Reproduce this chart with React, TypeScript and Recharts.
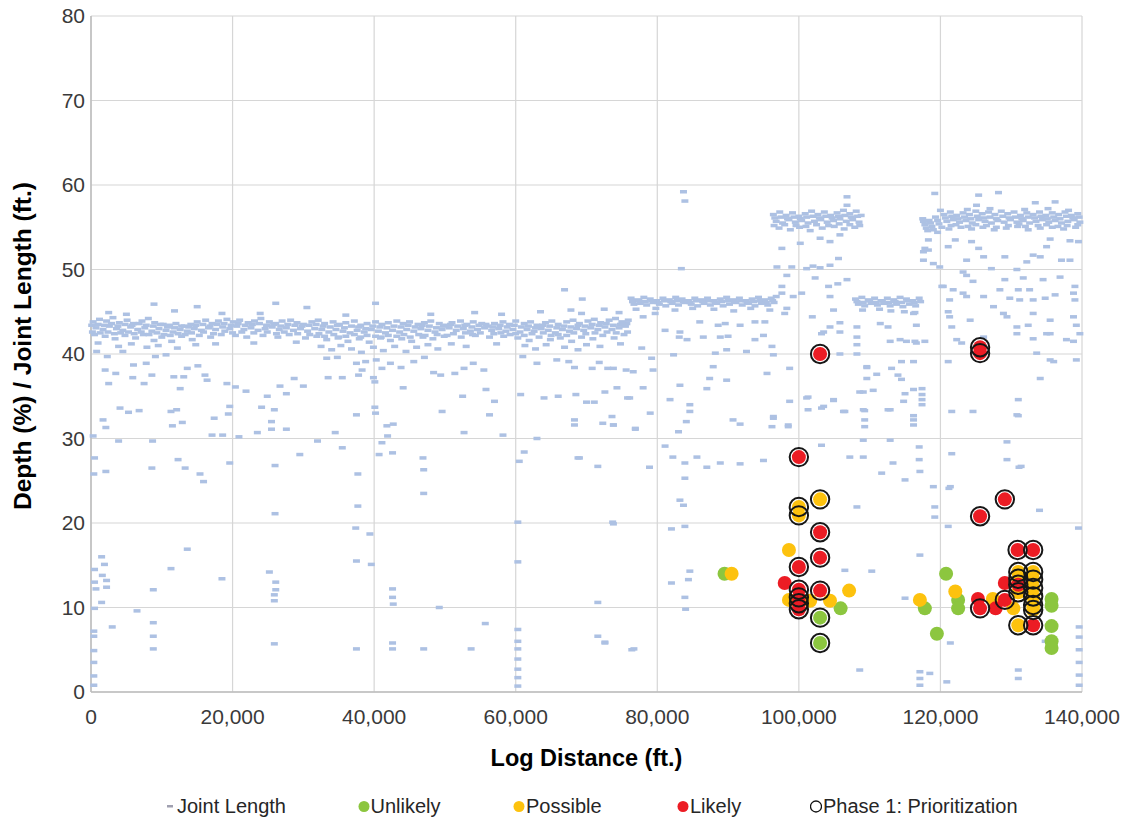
import React from 'react';
import { ScatterChart, Scatter, XAxis, YAxis, CartesianGrid, Legend, Label } from 'recharts';

type P = [number, number];

// ---- axis ticks ----
const xTicks = [0, 20000, 40000, 60000, 80000, 100000, 120000, 140000];
const yTicks = [0, 10, 20, 30, 40, 50, 60, 70, 80];

// ---- Joint Length (x in thousand ft, y in ft) ----
const jointBandATop: P[] = [
  [0.3,43.8],[1.2,44.1],[2.2,43.9],[3.1,44.3],[4.0,43.7],[5.1,44.0],[6.0,43.6],[7.2,43.9],[8.1,44.2],[9.0,43.7],
  [10.2,43.5],[11.1,43.4],[12.0,43.6],[13.2,43.3],[14.1,43.5],[15.0,43.8],[16.2,44.0],[17.1,43.6],[18.0,43.9],[19.2,44.1],
  [20.1,43.8],[21.0,44.0],[22.2,43.7],[23.1,43.9],[24.0,44.2],[25.2,43.8],[26.1,43.6],[27.0,43.9],[28.2,44.0],[29.1,43.7],
  [30.0,43.5],[31.2,43.8],[32.1,44.0],[33.0,43.6],[34.2,43.8],[35.1,43.5],[36.0,43.7],[37.2,43.9],[38.1,43.4],[39.0,43.6],
  [40.2,43.8],[41.1,43.5],[42.0,43.7],[43.2,43.9],[44.1,43.6],[45.0,43.8],[46.2,43.5],[47.1,43.7],[48.0,43.9],[49.2,43.6],
  [50.1,43.4],[51.0,43.7],[52.2,43.9],[53.1,43.5],[54.0,43.8],[55.2,43.6],[56.1,43.3],[57.0,43.6],[58.2,43.8],[59.1,43.5],
  [60.0,43.9],[61.2,43.6],[62.1,43.8],[63.0,43.4],[64.2,43.7],[65.1,43.9],[66.0,43.5],[67.2,43.8],[68.1,44.0],[69.0,43.6],
  [70.2,43.9],[71.1,44.1],[72.0,43.7],[73.2,44.0],[74.1,44.2],[75.0,43.8],[75.9,44.0],
];
const jointBandAMid: P[] = [
  [0.7,43.1],[1.7,42.9],[2.6,43.3],[3.6,43.0],[4.5,42.8],[5.6,43.2],[6.6,42.9],[7.6,43.1],[8.6,42.7],[9.6,43.0],
  [10.6,42.8],[11.6,42.6],[12.6,42.9],[13.6,42.7],[14.6,43.0],[15.6,42.8],[16.6,43.1],[17.6,42.9],[18.6,43.2],[19.6,43.0],
  [20.6,43.3],[21.6,42.9],[22.6,43.1],[23.6,42.8],[24.6,43.0],[25.6,43.2],[26.6,42.9],[27.6,43.1],[28.6,42.8],[29.6,43.0],
  [30.6,42.7],[31.6,43.0],[32.6,42.9],[33.6,42.6],[34.6,42.9],[35.6,42.7],[36.6,42.5],[37.6,42.8],[38.6,42.6],[39.6,42.9],
  [40.6,42.7],[41.6,42.5],[42.6,42.8],[43.6,42.6],[44.6,42.9],[45.6,42.7],[46.6,43.0],[47.6,42.8],[48.6,42.6],[49.6,42.9],
  [50.6,43.1],[51.6,42.8],[52.6,43.0],[53.6,42.7],[54.6,42.9],[55.6,43.1],[56.6,42.8],[57.6,43.0],[58.6,42.7],[59.6,42.9],
  [60.6,42.6],[61.6,42.9],[62.6,42.7],[63.6,43.0],[64.6,42.8],[65.6,42.5],[66.6,42.9],[67.6,42.7],[68.6,43.0],[69.6,42.8],
  [70.6,43.1],[71.6,42.9],[72.6,43.2],[73.6,42.9],[74.6,43.1],[75.5,43.3],
];
const jointBandAFill: P[] = [
  [0.1,43.4],[1.0,43.5],[1.9,43.4],[2.9,43.6],[3.8,43.3],[4.8,43.5],[5.8,43.4],[6.8,43.6],[7.8,43.4],[8.8,43.3],
  [9.8,43.5],[10.8,43.2],[11.8,43.1],[12.8,43.3],[13.8,43.2],[14.8,43.4],[15.8,43.5],[16.8,43.3],[17.8,43.5],[18.8,43.6],
  [19.8,43.4],[20.8,43.6],[21.8,43.4],[22.8,43.5],[23.8,43.6],[24.8,43.4],[25.8,43.5],[26.8,43.3],[27.8,43.5],[28.8,43.4],
  [29.8,43.3],[30.8,43.4],[31.8,43.5],[32.8,43.3],[33.8,43.2],[34.8,43.4],[35.8,43.1],[36.8,43.3],[37.8,43.2],[38.8,43.0],
  [39.8,43.3],[40.8,43.2],[41.8,43.1],[42.8,43.3],[43.8,43.2],[44.8,43.4],[45.8,43.2],[46.8,43.4],[47.8,43.3],[48.8,43.1],
  [49.8,43.3],[50.8,43.5],[51.8,43.3],[52.8,43.4],[53.8,43.2],[54.8,43.4],[55.8,43.5],[56.8,43.2],[57.8,43.4],[58.8,43.2],
  [59.8,43.4],[60.8,43.2],[61.8,43.3],[62.8,43.1],[63.8,43.4],[64.8,43.3],[65.8,43.1],[66.8,43.3],[67.8,43.2],[68.8,43.4],
  [69.8,43.3],[70.8,43.5],[71.8,43.4],[72.8,43.6],[73.8,43.4],[74.8,43.5],[75.7,43.6],
  [0.2,42.6],[1.3,42.5],[2.4,42.6],[3.3,42.4],[4.2,42.5],[5.3,42.6],[6.1,42.4],[7.1,42.6],[8.2,42.3],[9.3,42.5],
  [10.3,42.3],[11.2,42.2],[12.3,42.4],[13.3,42.3],[14.2,42.5],[15.9,42.6],[17.3,42.4],[18.9,42.7],[20.0,42.5],[21.3,42.6],
  [23.0,42.5],[24.9,42.6],[26.2,42.4],[27.3,42.6],[29.2,42.4],[30.9,42.3],[32.2,42.4],[33.0,42.1],[34.3,42.3],[35.0,42.0],
  [36.0,42.1],[37.2,42.3],[38.1,42.0],[39.0,42.2],[40.2,42.1],[41.0,42.0],[42.0,42.2],[43.2,42.1],[44.2,42.3],[45.1,42.0],
  [46.3,42.3],[47.2,42.2],[48.9,42.3],[49.9,42.1],[51.2,42.4],[52.9,42.5],[53.9,42.3],[55.0,42.5],[56.9,42.4],[57.9,42.5],
  [59.2,42.3],[60.0,42.4],[61.2,42.2],[62.3,42.4],[63.9,42.5],[65.0,42.2],[66.0,42.3],[67.2,42.2],[68.2,42.5],[69.9,42.4],
  [71.2,42.5],[72.9,42.6],[74.2,42.5],[75.8,42.6],
];
const jointBandALow: P[] = [
  [0.5,42.3],[2.0,42.1],[3.4,41.8],[4.8,42.2],[6.3,41.9],[7.4,42.3],[8.9,41.6],[10.0,42.0],[11.4,41.5],[12.8,42.1],
  [14.3,41.7],[15.3,42.2],[16.9,42.0],[18.4,42.3],[20.4,42.2],[22.0,42.0],[24.3,42.2],[26.4,42.0],[28.0,42.3],[30.3,41.9],
  [31.9,42.1],[33.3,41.7],[34.9,41.9],[36.3,41.5],[37.9,41.8],[39.3,41.4],[40.9,41.9],[42.3,41.6],[43.9,41.8],[45.3,41.5],
  [46.9,42.0],[48.3,41.8],[50.3,42.2],[52.3,42.0],[54.3,42.2],[56.3,42.0],[58.3,42.1],[60.3,41.9],[61.9,41.6],[63.3,42.0],
  [64.9,41.7],[66.3,41.9],[67.9,41.5],[69.3,42.0],[70.9,41.8],[72.3,42.2],[73.9,41.9],[75.3,42.3],
  [1.0,41.3],[3.9,40.9],[5.7,41.2],[7.9,40.8],[9.5,41.0],[12.2,40.7],[14.8,41.1],[17.6,41.2],[23.0,41.3],[29.0,41.4],
  [32.5,40.9],[34.0,40.5],[35.3,41.0],[36.8,40.6],[38.2,40.2],[39.9,40.8],[41.3,40.4],[42.9,40.9],[44.5,40.3],[46.0,40.8],
  [47.6,41.1],[49.0,40.6],[50.9,41.2],[53.0,40.9],[57.3,41.2],[61.3,41.0],[62.8,40.6],[64.3,41.1],[66.9,40.8],[68.8,40.5],
  [70.0,41.1],[71.9,40.9],[74.8,41.2],
];
const jointBandB: P[] = [
  [76.3,46.6],[77.2,46.4],[78.1,46.7],[79.0,46.5],[79.9,46.3],[80.8,46.6],[81.7,46.4],[82.6,46.7],[83.5,46.5],[84.4,46.3],
  [85.3,46.6],[86.2,46.4],[87.1,46.6],[88.0,46.3],[88.9,46.5],[89.8,46.7],[90.7,46.4],[91.6,46.6],[92.5,46.3],[93.4,46.5],
  [94.3,46.7],[95.2,46.4],[96.1,46.6],[96.8,46.8],
  [76.5,46.2],[77.4,46.3],[78.3,46.2],[79.2,46.3],[80.1,46.1],[81.0,46.3],[81.9,46.2],[82.8,46.3],[83.7,46.2],[84.6,46.1],
  [85.5,46.3],[86.4,46.2],[87.3,46.3],[88.2,46.1],[89.1,46.2],[90.0,46.3],[90.9,46.2],[91.8,46.3],[92.7,46.1],[93.6,46.2],
  [94.5,46.3],[95.4,46.1],[96.3,46.3],
  [76.7,45.9],[77.6,46.0],[78.5,45.8],[79.4,46.1],[80.3,45.9],[81.2,45.7],[82.1,46.0],[83.0,45.8],[83.9,46.1],[84.8,45.9],
  [85.7,45.7],[86.6,46.0],[87.5,45.8],[88.4,46.0],[89.3,45.7],[90.2,45.9],[91.1,46.1],[92.0,45.8],[92.9,46.0],[93.8,45.7],
  [94.7,46.0],[95.6,45.8],[96.5,46.1],
  [77.0,45.3],[79.8,45.4],[82.5,45.2],[85.0,45.4],[88.0,45.3],[90.8,45.1],[93.2,45.4],[95.9,45.2],
];
const jointBandC: P[] = [
  [96.4,56.5],[97.3,56.8],[98.2,56.4],[99.1,56.7],[100.0,56.3],[100.9,56.6],[101.8,56.9],[102.7,56.5],[103.6,56.8],[104.5,56.4],
  [105.4,56.7],[106.3,57.0],[107.2,56.6],[108.1,56.9],[108.8,56.4],
  [96.6,56.1],[97.5,56.2],[98.4,56.0],[99.3,56.2],[100.2,56.0],[101.1,56.2],[102.0,56.3],[102.9,56.1],[103.8,56.3],[104.7,56.1],
  [105.6,56.3],[106.5,56.4],[107.4,56.2],[108.3,56.3],
  [96.8,55.7],[97.7,55.5],[98.6,55.9],[99.5,55.6],[100.4,55.8],[101.3,55.5],[102.2,55.7],[103.1,55.9],[104.0,55.6],[104.9,55.8],
  [105.8,56.0],[106.7,55.7],[107.6,55.9],[108.5,55.6],
  [96.5,55.2],[98.0,55.3],[99.6,55.2],[101.0,55.1],[102.5,55.3],[104.2,55.2],[105.7,55.4],[107.2,55.3],[108.6,55.2],
  [97.2,54.9],[98.8,54.7],[100.1,55.0],[101.6,54.6],[103.3,54.9],[105.0,55.1],[106.4,54.8],[107.9,55.0],
];
const jointBandD: P[] = [
  [108.0,46.5],[108.9,46.7],[109.8,46.4],[110.7,46.6],[111.6,46.3],[112.5,46.6],[113.4,46.4],[114.3,46.7],[115.2,46.5],[116.1,46.3],[117.0,46.6],
  [108.2,46.2],[109.1,46.1],[110.0,46.3],[110.9,46.1],[111.8,46.3],[112.7,46.1],[113.6,46.2],[114.5,46.1],[115.4,46.3],[116.3,46.1],[117.2,46.2],
  [108.4,45.9],[109.3,45.7],[110.2,46.0],[111.1,45.8],[112.0,46.0],[112.9,45.7],[113.8,45.9],[114.7,45.6],[115.6,45.9],[116.5,45.7],
  [109.0,45.2],[111.4,45.3],[113.0,45.1],[114.9,45.0],[116.4,44.9],
];
const jointBandE: P[] = [
  [120.0,57.0],[123.8,57.1],[127.0,57.2],[131.9,57.1],[135.2,57.2],[138.1,57.0],
  [117.5,56.0],[118.4,55.8],[119.3,56.2],[120.5,56.5],[121.4,56.8],[122.3,56.4],[123.2,56.7],[124.1,56.5],[125.0,56.9],[125.9,56.6],
  [126.8,56.8],[127.7,56.5],[128.6,56.9],[129.5,56.6],[130.4,56.8],[131.3,56.4],[132.2,56.7],[133.1,56.5],[134.0,56.8],[134.9,56.4],
  [135.8,56.7],[136.7,56.5],[137.6,56.8],[138.5,56.4],[139.4,56.6],
  [117.6,55.7],[118.6,55.5],[119.6,55.8],[120.7,56.1],[121.6,56.3],[122.5,56.0],[123.4,56.2],[124.3,56.0],[125.2,56.3],[126.1,56.1],
  [127.0,56.2],[127.9,56.0],[128.8,56.3],[129.7,56.1],[130.6,56.2],[131.5,56.0],[132.4,56.2],[133.3,56.1],[134.2,56.3],[135.1,56.0],
  [136.0,56.2],[136.9,56.0],[137.8,56.3],[138.7,56.1],[139.6,56.2],
  [117.8,55.3],[118.8,55.1],[119.8,55.4],[120.9,55.7],[121.8,55.9],[122.7,55.6],[123.6,55.8],[124.5,55.5],[125.4,55.9],[126.3,55.7],
  [127.2,55.5],[128.1,55.8],[129.0,55.6],[129.9,55.9],[130.8,55.6],[131.7,55.8],[132.6,55.5],[133.5,55.7],[134.4,55.9],[135.3,55.6],
  [136.2,55.8],[137.1,55.5],[138.0,55.7],[138.9,55.9],[139.7,55.6],
  [118.0,54.9],[119.0,54.7],[120.2,55.0],[121.5,55.2],[122.2,55.3],[123.9,55.1],[125.0,55.3],[126.5,55.2],[127.9,55.0],[129.6,55.2],
  [131.1,55.4],[132.0,55.1],[133.8,55.2],[135.0,55.3],[136.6,55.1],[137.9,55.2],[139.4,55.3],
  [118.2,54.6],[119.6,54.4],[121.2,54.8],[122.9,55.0],[124.4,54.8],[126.0,55.0],[127.6,54.7],[129.3,54.9],[130.9,55.1],[132.4,54.7],
  [134.1,54.9],[135.8,55.0],[137.4,54.8],[139.1,55.0],
];
const jointScatterLeft: P[] = [
  [8.9,45.9],[11.8,45.1],[15.0,45.6],[26.1,46.0],[30.5,45.5],[23.9,44.8],[40.2,46.0],[54.2,44.9],[66.9,47.6],[69.4,46.5],
  [67.8,45.2],[69.3,44.8],[2.5,44.9],[5.0,44.7],[18.5,44.8],[36.0,44.6],[48.0,44.7],[58.0,44.7],[63.5,45.0],[72.5,45.3],[74.6,44.9],
  [0.8,40.3],[2.3,39.7],[4.5,40.3],[6.0,38.7],[7.8,38.9],[9.1,39.7],[10.6,39.9],[2.0,38.1],[3.5,37.7],[5.9,37.2],
  [8.6,37.5],[11.7,37.3],[13.1,37.3],[13.6,38.3],[15.1,38.6],[16.1,37.5],[16.4,36.9],[2.5,36.5],[7.5,36.5],[12.6,35.9],
  [19.2,36.5],[20.4,36.1],[21.9,35.6],[26.7,36.2],[28.7,37.1],[30.0,36.2],[24.9,35.0],[27.6,35.3],[4.1,33.6],[5.3,33.1],
  [6.8,33.3],[11.3,33.2],[12.1,33.4],[19.6,33.8],[19.4,32.9],[24.1,33.7],[25.9,33.4],[1.7,32.2],[2.1,31.3],[11.5,31.5],
  [12.9,31.9],[17.4,32.4],[25.5,32.0],[25.5,31.1],[27.6,31.1],[23.5,30.7],[0.3,30.3],[3.9,29.7],[8.7,29.7],[17.1,30.4],
  [18.6,30.4],[20.9,30.2],[32.0,29.7],[34.5,30.7],[35.5,28.9],[37.5,32.8],[40.2,33.0],[40.1,33.7],[41.8,31.5],[42.7,31.7],
  [41.9,30.3],[41.1,29.5],[40.7,28.1],[42.6,28.3],[46.9,27.7],[47.0,26.3],[47.0,23.5],[49.6,33.2],[52.7,30.7],[56.3,32.8],
  [57.0,34.4],[58.2,30.4],[52.5,35.0],[55.8,35.8],
  [33.3,39.5],[34.8,39.6],[37.5,38.9],[38.3,38.1],[38.8,39.1],[40.3,39.3],[41.1,38.3],[42.3,38.9],[43.8,38.4],[45.6,39.1],
  [47.1,39.6],[48.4,37.8],[49.4,37.5],[51.4,37.7],[52.7,38.3],[54.0,38.9],[55.5,38.1],[33.5,37.2],[35.5,37.2],[37.8,37.5],
  [39.9,37.2],[40.1,36.7],[44.1,36.0],
  [61.0,39.7],[63.0,38.9],[65.8,39.3],[67.5,39.1],[68.3,38.4],[70.8,38.3],[71.8,39.0],[73.0,38.3],[75.6,38.1],[60.7,35.2],
  [64.0,34.8],[66.0,35.0],[68.5,35.2],[70.0,34.3],[71.1,34.3],[74.3,36.0],[75.8,34.8],[68.3,32.2],[68.3,31.6],[72.3,31.8],
  [73.6,32.6],[73.8,31.6],[76.9,31.1],[63.0,30.0],[69.0,27.7],[71.6,26.7],[61.2,28.4],[60.5,27.3],
];
const jointScatterLow: P[] = [
  [0.5,27.7],[0.4,25.8],[2.1,26.1],[8.6,26.5],[12.3,27.5],[13.3,26.5],[15.4,25.8],[15.9,24.9],[19.6,27.1],[26.0,26.8],
  [26.0,21.1],[29.5,28.1],[37.7,25.8],[37.7,22.0],[37.4,19.4],[39.4,18.7],[37.5,15.5],[39.6,15.1],[13.6,16.9],[11.3,14.6],
  [1.5,16.0],[1.9,15.1],[0.5,14.5],[1.6,13.8],[0.5,13.0],[2.2,13.2],[18.5,13.4],[25.2,14.2],[26.1,13.0],[26.1,12.1],
  [25.9,11.5],[25.9,10.8],[0.7,12.2],[2.2,12.4],[8.8,12.1],[1.5,10.6],[0.5,9.9],[6.5,9.6],[42.6,12.2],[42.6,11.2],
  [42.7,10.4],[49.2,10.0],[55.7,8.1],[60.3,15.4],[71.6,10.6],[71.6,6.6],[72.6,5.9],[76.7,5.1],[8.8,8.2],[8.8,6.6],
  [8.8,5.1],[3.0,7.7],[0.4,7.2],[0.4,6.6],[0.4,4.9],[0.4,3.5],[0.4,1.9],[0.4,0.8],[25.9,5.7],[37.5,5.1],
  [42.6,5.1],[42.6,5.8],[47.0,5.1],[53.7,5.1],[60.3,7.4],[60.3,6.0],[60.3,5.1],[60.3,3.9],[60.3,2.7],[60.3,1.7],
  [60.3,0.7],[60.3,20.1],[73.7,20.1],[68.8,27.7],
];
const jointScatterRight: P[] = [
  [83.7,59.2],[83.9,58.1],[83.4,50.1],[97.6,52.5],[96.9,50.3],[99.0,50.3],[100.2,53.1],[98.3,49.3],[97.6,48.0],[97.6,47.2],
  [99.2,46.8],[98.3,45.4],[98.0,44.8],[100.4,47.2],[101.9,44.4],[103.2,42.4],[104.4,43.2],[104.9,45.2],[104.4,46.8],[104.2,48.0],
  [102.3,49.0],[101.1,50.1],[102.0,50.4],[103.0,50.2],[104.4,50.5],[105.6,51.3],[105.5,48.3],[106.8,48.8],[105.8,43.7],[105.8,42.6],
  [103.0,53.7],[104.4,53.3],[105.8,54.1],
  [78.0,44.4],[79.7,44.8],[81.1,42.8],[83.2,42.6],[86.0,43.8],[88.6,43.4],[89.6,43.6],[91.7,43.4],[93.8,43.8],[95.2,43.8],
  [83.1,42.0],[84.2,41.7],[86.5,42.0],[88.9,42.0],[90.0,42.1],[93.8,41.7],[95.0,42.2],[77.8,40.7],[79.2,39.5],[82.3,39.9],
  [88.2,40.1],[89.8,40.5],[92.6,40.3],[96.2,40.9],[96.4,39.9],
  [73.8,38.3],[76.6,37.9],[79.4,38.1],[87.9,38.5],[87.4,37.1],[89.8,36.9],[83.2,36.3],[87.0,35.9],[78.0,36.0],[76.1,34.8],
  [81.8,34.6],[84.6,34.0],[84.6,33.2],[79.0,33.0],[84.1,32.0],[90.7,32.2],[91.7,31.7],[96.4,32.6],[96.2,31.4],[98.5,31.6],
  [83.0,30.8],[76.9,31.2],[98.7,34.4],[73.8,31.6],[72.6,35.5],
  [81.1,29.1],[82.2,27.8],[83.9,27.1],[85.6,27.8],[87.0,26.6],[88.9,27.1],[91.7,27.0],[95.0,27.4],[83.9,25.3],[78.9,26.6],
  [83.2,22.7],[83.7,22.1],[82.0,19.3],[83.9,19.6],[73.8,19.9],
  [101.3,34.9],[103.5,33.8],[104.9,34.5],[106.5,33.2],[109.1,35.5],[111.0,37.6],[109.6,38.4],[114.0,37.5],[114.5,37.0],[115.0,35.3],
  [116.2,35.8],[117.4,35.9],[117.4,34.0],[116.2,32.2],[116.2,31.6],[112.9,33.4],[109.3,33.3],[109.3,32.2],[109.3,31.4],[107.2,27.8],
  [109.1,27.8],[111.7,25.9],[113.3,27.1],[115.0,25.1],[117.0,29.0],[117.0,27.5],[117.1,26.1],[119.0,24.3],[119.2,21.9],[119.2,20.7],
  [121.2,24.1],[112.9,29.8],[109.1,29.8],[103.2,29.2],[108.2,21.9],
  [121.1,39.1],[131.0,34.6],[130.8,32.8],[134.1,37.1],[121.6,28.2],[129.4,27.5],[131.1,26.6],[134.0,21.5],[139.5,19.4],
  [82.0,12.9],[84.4,13.3],[84.6,14.3],[83.9,11.2],[84.0,9.8],[76.4,5.0],[72.6,5.8],[108.6,2.6],[106.5,14.4],[110.3,14.3],
  [117.1,16.2],[115.0,11.1],[121.4,5.8],[120.9,1.2],[118.5,2.2],[117.1,2.4],[117.1,1.6],[117.1,0.8],[139.6,7.7],[139.6,6.5],
  [139.6,5.0],[139.6,3.5],[139.6,2.0],[139.6,0.8],[131.0,2.6],[131.0,1.6],[134.8,6.0],
  [122.1,53.5],[123.7,51.1],[126.1,51.5],[127.2,50.1],[129.1,48.8],[130.8,50.0],[132.2,50.9],[134.1,51.5],[131.7,49.0],[134.5,48.8],
  [136.9,49.1],[123.7,46.8],[126.1,46.8],[127.5,45.6],[121.3,46.4],[129.4,44.4],[130.8,43.2],[133.1,44.8],[135.0,42.4],[137.8,41.7],
  [139.7,42.4],[122.3,41.7],[126.1,42.0],[133.6,40.1],[136.0,39.1],[139.2,39.3],
  [119.2,59.0],[125.4,58.8],[128.2,59.1],[133.4,57.9],[136.2,58.0],[125.1,57.6],[106.8,58.6],[106.8,57.6],[118.3,53.5],[118.3,52.3],
  [117.6,52.1],[121.1,52.7],[124.4,53.3],[125.4,52.5],[129.1,51.5],[133.1,51.7],[135.0,52.7],[138.3,53.4],[139.5,53.3],[135.5,53.6],
  [137.1,51.1],[138.3,51.1],[119.0,50.7],[119.9,50.3],[123.2,49.7],[123.7,49.3],[124.6,48.6],[120.4,48.0],[121.8,47.6],[123.2,47.2],
  [128.4,47.6],[131.0,47.6],[132.6,47.6],[129.8,46.6],[131.2,46.4],[133.1,46.4],[134.8,46.6],[136.2,47.0],[138.8,47.2],[139.0,46.4],
  [121.1,45.0],[121.3,44.4],[121.6,43.2],[124.2,44.0],[128.9,44.8],[130.8,42.4],[132.4,43.4],[135.5,44.0],[138.8,44.4],[139.2,43.4],
  [139.0,48.0],[135.5,42.4],[133.1,41.8],[135.5,39.3],[117.8,52.5],[117.6,51.1],[120.2,48.0],
  [116.2,44.8],[116.6,43.4],[114.3,41.7],[112.9,41.5],[111.5,43.6],[112.6,43.2],[108.2,43.2],[108.2,42.0],[116.4,41.5],[117.8,41.5],
  [138.8,41.5],[123.0,41.3],[121.6,33.2],[124.6,33.2],[131.0,32.7],[129.4,29.6],[131.4,26.7],[121.4,24.3],[121.1,19.6],
  [98.7,38.3],[95.5,37.7],[96.4,32.4],[98.5,31.4],[103.5,42.6],[105.8,40.0],[108.2,41.1],[108.2,40.0],[109.6,38.5],[109.6,37.1],
  [108.6,35.5],[110.5,35.7],[113.1,38.3],[114.5,39.1],[116.2,39.1],[116.6,41.3],[115.2,41.5],[109.1,33.4],[116.2,32.7],[117.4,34.6],
  [117.4,35.2],[114.8,34.4],[112.6,33.4],[106.3,33.2],[101.3,33.4],[101.1,34.8],[104.9,34.6],[103.2,33.6],
];

// ---- Anomaly classes (x in thousand ft, y = depth %) ----
const unlikely: P[] = [
  [89.5,14.0],[103,8.8],[103,5.8],[105.9,9.9],[117.8,9.9],[120.8,14.0],[119.5,6.9],[122.5,10.9],[122.5,9.9],
  [135.7,11.0],[135.7,10.2],[135.7,7.8],[135.7,6.0],[135.7,5.2],
];
const possible: P[] = [
  [90.5,14.0],[98.6,16.8],[100,21.9],[100,20.9],[103,22.8],[98.6,10.9],[101.6,10.8],[104.4,10.8],[107.1,12.0],
  [117.1,10.9],[122.1,11.9],[127.4,11.0],[130.3,9.9],[131,14.2],[131,13.4],[131,11.8],[131,7.9],
  [133.1,14.2],[133.1,13.3],[133.1,12.3],[133.1,11.3],[133.1,10.3],[133.1,9.7],
];
const likely: P[] = [
  [103,40],[125.6,40.8],[125.6,40.1],[100,27.8],[103,18.9],[103,15.9],[100,14.8],[98.0,12.9],
  [100,12.1],[100,11.2],[100,10.5],[100,9.8],[103,12.0],[129.1,22.8],[125.6,20.8],[130.9,16.8],[133.1,16.8],
  [125.3,11.0],[125.6,9.9],[127.8,9.9],[129.1,12.9],[129.1,10.9],[131,12.7],[133.1,7.9],
];
const phase1: P[] = [
  [103,8.8],[103,5.8],[100,21.9],[100,20.9],[103,22.8],[131,14.2],[131,13.4],[131,11.8],[131,7.9],
  [133.1,14.2],[133.1,13.3],[133.1,12.3],[133.1,11.3],[133.1,10.3],[133.1,9.7],
  [103,40],[125.6,40.8],[125.6,40.1],[100,27.8],[103,18.9],[103,15.9],[100,14.8],
  [100,12.1],[100,11.2],[100,10.5],[100,9.8],[103,12.0],[129.1,22.8],[125.6,20.8],[130.9,16.8],[133.1,16.8],
  [125.6,9.9],[129.1,10.9],[131,12.7],[133.1,7.9],
];

const toPts = (arr: P[]) => arr.map(([x, y]) => ({ x: x * 1000, y }));

const jointData = toPts([
  ...jointScatterLow, ...jointScatterLeft, ...jointScatterRight,
  ...jointBandALow, ...jointBandAMid, ...jointBandAFill, ...jointBandATop,
  ...jointBandB, ...jointBandC, ...jointBandD, ...jointBandE,
]);
const unlikelyData = toPts(unlikely);
const possibleData = toPts(possible);
const likelyData = toPts(likely);
const phase1Data = toPts(phase1);

const FONT = '"Liberation Sans", Arial, Helvetica, sans-serif';
const C_JOINT = '#adc1e3';
const C_GREEN = '#8cc63f';
const C_YELLOW = '#fdc20e';
const C_RED = '#ec1c24';

const DashShape = (p: any) => (
  <rect x={p.cx - 3.5} y={p.cy - 1.75} width={7} height={3.5} fill={C_JOINT} />
);
const dotShape = (color: string) => (p: any) => (
  <circle cx={p.cx} cy={p.cy} r={7} fill={color} />
);
const RingShape = (p: any) => (
  <circle cx={p.cx} cy={p.cy} r={9.2} fill="none" stroke="#161616" strokeWidth={2} />
);

const legendItems = [
  { left: 164, label: 'Joint Length', kind: 'dash', color: C_JOINT },
  { left: 357.5, label: 'Unlikely', kind: 'dot', color: C_GREEN },
  { left: 513, label: 'Possible', kind: 'dot', color: C_YELLOW },
  { left: 677, label: 'Likely', kind: 'dot', color: C_RED },
  { left: 810, label: 'Phase 1: Prioritization', kind: 'ring', color: '#111' },
];

const renderLegend = () => (
  <div style={{ position: 'relative', width: 1128, height: 24, fontFamily: FONT, fontSize: 20, color: '#262626' }}>
    {legendItems.map((it) => (
      <div key={it.label} style={{ position: 'absolute', left: it.left, top: 0, height: 24, display: 'flex', alignItems: 'center', whiteSpace: 'nowrap' }}>
        <svg width={12} height={24} style={{ display: 'block' }}>
          {it.kind === 'dash' && <rect x={3} y={11} width={6} height={2.5} fill="#a0a0b0" />}
          {it.kind === 'dot' && <circle cx={6} cy={12.5} r={5.5} fill={it.color} />}
          {it.kind === 'ring' && <circle cx={6} cy={12.5} r={5.5} fill="none" stroke={it.color} strokeWidth={1.3} />}
        </svg>
        <span style={{ marginLeft: 1 }}>{it.label}</span>
      </div>
    ))}
  </div>
);

const XTitle = (props: any) => {
  const vb = props.viewBox || {};
  return (
    <text x={vb.x + vb.width / 2} y={vb.y + 74} textAnchor="middle" fontFamily={FONT} fontSize={23.5} fontWeight="bold" fill="#000">
      Log Distance (ft.)
    </text>
  );
};
const YTitle = (props: any) => {
  const vb = props.viewBox || {};
  const cx = 22;
  const cy = vb.y + vb.height / 2 - 8;
  return (
    <text x={cx} y={cy} transform={`rotate(-90, ${cx}, ${cy})`} textAnchor="middle" dominantBaseline="central" fontFamily={FONT} fontSize={24.5} fontWeight="bold" fill="#000">
      Depth (%) / Joint Length (ft.)
    </text>
  );
};

export default function App() {
  return (
    <div style={{ position: 'absolute', left: 0, top: 0, width: 1128, height: 822 }}>
      <ScatterChart width={1128} height={822} margin={{ top: 16, right: 46, left: 0, bottom: 4 }}>
        <CartesianGrid stroke="#d6d6d6" strokeWidth={1.2} />
        <XAxis
          type="number"
          dataKey="x"
          domain={[0, 140000]}
          ticks={xTicks}
          interval={0}
          height={102}
          tickSize={0}
          tickMargin={17}
          axisLine={{ stroke: '#bdbdbd', strokeWidth: 1.5 }}
          tickLine={false}
          tick={{ fontSize: 21, fill: '#3a3a3a', fontFamily: FONT }}
          tickFormatter={(v: number) => v.toLocaleString('en-US')}
        >
          <Label content={XTitle} />
        </XAxis>
        <YAxis
          type="number"
          dataKey="y"
          domain={[0, 80]}
          ticks={yTicks}
          interval={0}
          width={91}
          tickSize={0}
          tickMargin={6}
          axisLine={{ stroke: '#bdbdbd', strokeWidth: 1.5 }}
          tickLine={false}
          tick={{ fontSize: 21, fill: '#3a3a3a', fontFamily: FONT }}
        >
          <Label content={YTitle} />
        </YAxis>
        <Legend verticalAlign="bottom" align="left" content={renderLegend} />
        <Scatter name="Joint Length" data={jointData} shape={DashShape} isAnimationActive={false} />
        <Scatter name="Unlikely" data={unlikelyData} shape={dotShape(C_GREEN)} isAnimationActive={false} />
        <Scatter name="Possible" data={possibleData} shape={dotShape(C_YELLOW)} isAnimationActive={false} />
        <Scatter name="Likely" data={likelyData} shape={dotShape(C_RED)} isAnimationActive={false} />
        <Scatter name="Phase 1: Prioritization" data={phase1Data} shape={RingShape} isAnimationActive={false} />
      </ScatterChart>
    </div>
  );
}
